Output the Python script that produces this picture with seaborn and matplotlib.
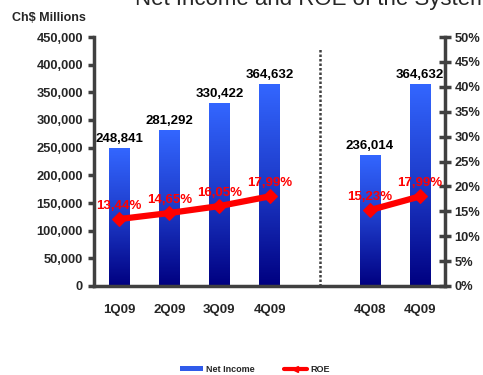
import numpy as np
import pandas as pd
import matplotlib
matplotlib.use("Agg")
import matplotlib.pyplot as plt
from matplotlib.lines import Line2D
from matplotlib.patches import Patch
from matplotlib.colors import LinearSegmentedColormap
from matplotlib.ticker import FuncFormatter, MultipleLocator, FixedLocator
import seaborn as sns

# Quarterly net income (Ch$ millions) and ROE (%)
slots = ["1Q09", "2Q09", "3Q09", "4Q09", "gap", "4Q08", "4Q09b"]
slot_labels = ["1Q09", "2Q09", "3Q09", "4Q09", "", "4Q08", "4Q09"]
bar_slots = ["1Q09", "2Q09", "3Q09", "4Q09", "4Q08", "4Q09b"]
net_income = [248841, 281292, 330422, 364632, 236014, 364632]
roe = [13.44, 14.65, 16.05, 17.99, 15.23, 17.99]
roe_groups = [[0, 1, 2, 3], [4, 5]]

sns.set_style("white")
plt.rcParams["font.family"] = ["Liberation Sans", "DejaVu Sans"]
plt.rcParams["font.weight"] = "bold"

fig = plt.figure(figsize=(4.83, 3.75), dpi=100)
ax = fig.add_axes([94 / 483, (375 - 286) / 375, (445 - 94) / 483, 249 / 375])

df = pd.DataFrame({"slot": bar_slots, "value": net_income})
sns.barplot(data=df, x="slot", y="value", order=slots, color="#2F5BEA",
            width=0.4, ax=ax, zorder=2)

ax.set_xlim(-0.5, 6.5)
ax.set_ylim(0, 450000)

# vertical gradient fill for each bar
cmap = LinearSegmentedColormap.from_list("ni", ["#000080", "#1D3AC8", "#3366FF"])
grad = np.linspace(0, 1, 256).reshape(-1, 1)
for p in ax.patches:
    x0, y0 = p.get_x(), p.get_y()
    w, h = p.get_width(), p.get_height()
    if h <= 0 or np.isnan(h):
        continue
    im = ax.imshow(grad, cmap=cmap, origin="lower", aspect="auto",
                   extent=[x0, x0 + w, y0, y0 + h], zorder=2.5)
    im.set_clip_path(p)
    p.set_edgecolor("none")
ax.set_xlim(-0.5, 6.5)
ax.set_ylim(0, 450000)

# value labels above bars
for p, v in zip([p for p in ax.patches if p.get_height() > 0], net_income):
    ax.text(p.get_x() + p.get_width() / 2, v + 6000, f"{v:,}",
            ha="center", va="bottom", fontsize=9.5, fontweight="bold",
            color="black", zorder=4)

ax.axvline(4, ymin=0, ymax=0.955, color="#404040", linestyle=(0, (1, 0.8)),
           linewidth=1.8, zorder=1)

spine_c = "#404040"
for s in ["top", "right"]:
    ax.spines[s].set_visible(False)
for s in ["left", "bottom"]:
    ax.spines[s].set_color(spine_c)
    ax.spines[s].set_linewidth(2.5)

ax.yaxis.set_major_locator(MultipleLocator(50000))
ax.yaxis.set_major_formatter(FuncFormatter(lambda v, _: f"{int(v):,}"))
ax.tick_params(axis="y", direction="out", length=4, width=2.5, color=spine_c,
               labelsize=9.3, pad=4)
ax.set_xticks(range(len(slots)))
ax.set_xticklabels(slot_labels)
ax.tick_params(axis="x", which="major", length=0, labelsize=9.5, pad=13)
ax.xaxis.set_minor_locator(FixedLocator(np.arange(-0.5, 7.0, 1.0)))
ax.tick_params(axis="x", which="minor", direction="out", length=4, width=2.5,
               color=spine_c)
ax.set_xlabel("")
ax.set_ylabel("")
for lbl in ax.get_xticklabels() + ax.get_yticklabels():
    lbl.set_fontweight("bold")

# ROE on secondary axis
ax2 = ax.twinx()
ax2.set_ylim(0, 50)
bar_x = [slots.index(s) for s in bar_slots]
roe_df = pd.DataFrame({"x": bar_x, "roe": roe})
for grp in roe_groups:
    sub = roe_df.iloc[grp]
    sns.lineplot(data=sub, x="x", y="roe", ax=ax2, color="#FF0000",
                 linewidth=4.5, marker="D", markersize=7,
                 markeredgecolor="#FF0000", zorder=5)
for xi, r in zip(bar_x, roe):
    ax2.text(xi, r + 1.5, f"{r:.2f}%".replace(".", ","), ha="center",
             va="bottom", fontsize=9.5, fontweight="bold", color="#FF0000",
             zorder=6)
ax2.set_xlim(-0.5, 6.5)
ax2.set_ylabel("")
ax2.set_xlabel("")
for s in ["top", "left", "bottom"]:
    ax2.spines[s].set_visible(False)
ax2.spines["right"].set_color(spine_c)
ax2.spines["right"].set_linewidth(2.5)
ax2.yaxis.set_major_locator(MultipleLocator(5))
ax2.yaxis.set_major_formatter(FuncFormatter(lambda v, _: f"{int(v)}%"))
ax2.tick_params(axis="y", direction="inout", length=8, width=2.5,
                color=spine_c, labelsize=9.3, pad=3)
for lbl in ax2.get_yticklabels():
    lbl.set_fontweight("bold")

fig.text(12 / 483, 1 - 18 / 375, "Ch$ Millions", fontsize=9,
         fontweight="bold", va="center", ha="left")
fig.text(135 / 483, 1 - 5 / 375, "Net Income and ROE of the System",
         fontsize=16, fontweight="normal", va="baseline", ha="left")

handles = [Patch(facecolor="#2F5BEA", edgecolor="none"),
           Line2D([0], [0], color="#FF0000", linewidth=3, marker="<",
                  markersize=4)]
fig.legend(handles, ["Net Income", "ROE"], loc="center",
           bbox_to_anchor=(255 / 483, 1 - 369 / 375), ncol=2, frameon=False,
           prop={"size": 6.5, "weight": "bold"}, handlelength=2.5,
           handleheight=0.4, columnspacing=3.2, handletextpad=0.4)

fig.savefig("out.png", dpi=100)
